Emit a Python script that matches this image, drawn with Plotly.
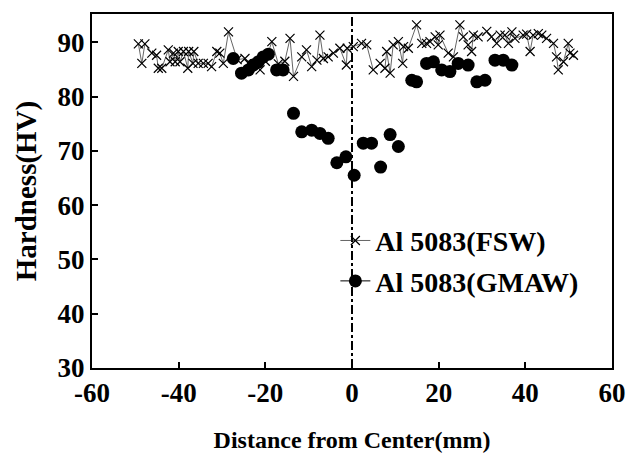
import plotly.graph_objects as go

# FSW hardness profile (distance mm, hardness HV)
fsw_x = [-49.3, -48.5, -47.8, -46.2, -45.1, -44.7, -43.9, -42.4, -42.0, -41.2,
         -40.8, -40.1, -39.7, -38.9, -37.9, -37.7, -36.7, -36.5, -35.5, -34.3,
         -33.2, -32.4, -31.2, -30.5, -29.7, -28.5, -26.5, -24.7, -23.9, -22.5,
         -21.2, -20.0, -18.5, -17.0, -15.5, -14.3, -13.5, -11.6, -10.5, -9.3,
         -8.1, -7.4, -6.6, -5.5, -4.3, -2.8, -1.3, -1.1, 0.3, 2.2,
         3.4, 4.9, 6.5, 7.6, 8.0, 8.8, 9.5, 10.7, 11.7, 11.9,
         13.0, 14.9, 16.1, 17.2, 18.0, 19.2, 19.9, 20.3, 22.2, 23.4,
         24.9, 25.7, 26.8, 27.6, 28.0, 29.1, 31.1, 32.2, 33.4, 34.2,
         35.3, 36.1, 36.9, 37.6, 39.5, 40.3, 41.1, 41.8, 43.0, 43.8,
         44.9, 46.5, 47.2, 47.6, 48.8, 49.9, 50.3, 51.1]
fsw_y = [89.7, 86.1, 89.7, 88.0, 87.6, 85.2, 85.2, 88.6, 86.4, 88.0,
         86.4, 88.3, 86.4, 88.3, 85.2, 88.3, 86.1, 88.3, 86.1, 86.1,
         86.1, 85.5, 88.3, 88.0, 86.1, 91.9, 86.8, 87.0, 86.1, 86.0,
         84.9, 86.5, 90.1, 86.0, 86.5, 90.7, 83.7, 87.3, 88.6, 85.5,
         86.7, 91.3, 87.0, 87.3, 88.0, 88.9, 85.8, 88.9, 89.2, 89.8,
         89.5, 84.9, 86.1, 85.2, 88.3, 84.3, 89.5, 90.1, 86.1, 89.2,
         88.9, 93.2, 89.8, 89.8, 90.1, 91.0, 89.5, 91.3, 88.0, 87.3,
         93.2, 91.0, 89.5, 88.3, 91.3, 91.0, 92.0, 91.0, 89.8, 91.3,
         91.3, 89.8, 91.9, 90.7, 91.3, 91.5, 88.3, 91.3, 91.6, 91.3,
         90.7, 89.8, 87.3, 84.9, 86.4, 89.8, 88.0, 87.6]

# GMAW hardness profile
gmaw_x = [-27.4, -25.5, -23.9, -22.8, -21.6, -20.5, -19.3, -17.4, -15.9, -13.5,
          -11.6, -9.3, -7.4, -5.5, -3.5, -1.4, 0.5, 2.6, 4.5, 6.6,
          8.8, 10.7, 13.8, 14.9, 17.2, 18.8, 20.7, 22.6, 24.5, 26.8,
          28.8, 30.7, 33.0, 34.9, 36.9]
gmaw_y = [87.0, 84.3, 84.9, 85.8, 86.4, 87.3, 87.8, 84.9, 84.9, 76.9,
          73.5, 73.8, 73.2, 72.3, 67.8, 68.9, 65.5, 71.4, 71.4, 67.0,
          73.0, 70.8, 83.0, 82.7, 86.1, 86.4, 84.9, 84.6, 86.1, 85.8,
          82.7, 83.0, 86.7, 86.7, 85.8]

x_ticks = [-60, -40, -20, 0, 20, 40, 60]
y_ticks = [30, 40, 50, 60, 70, 80, 90]

FONT = "Liberation Serif"

fig = go.Figure()

fig.add_trace(go.Scatter(
    x=fsw_x, y=fsw_y, mode="lines+markers", name="Al 5083(FSW)",
    legendgroup="a",
    line=dict(color="#222", width=0.7),
    marker=dict(symbol="x-thin", size=9, line=dict(color="black", width=1.2)),
))

fig.add_trace(go.Scatter(
    x=gmaw_x, y=gmaw_y, mode="markers", name="Al 5083(GMAW)",
    showlegend=False,
    marker=dict(symbol="circle", size=13, color="black"),
))

# legend entry for GMAW (line + dot as in the original key)
fig.add_trace(go.Scatter(
    x=[None], y=[None], mode="lines+markers", name="Al 5083(GMAW)",
    legendgroup="b",
    line=dict(color="black", width=1),
    marker=dict(symbol="circle", size=13, color="black"),
))

# centre line
fig.add_vline(x=0, line=dict(color="black", width=2, dash="dashdot"))

# margins compensate for the page's 8px body margin
fig.update_layout(
    width=643, height=459,
    margin=dict(l=84, r=39, t=6, b=99),
    paper_bgcolor="white", plot_bgcolor="white",
    font=dict(family=FONT, color="black", size=24, weight="bold"),
    showlegend=True,
    legend=dict(
        x=0.468, y=0.43, xanchor="left", yanchor="top",
        bgcolor="rgba(0,0,0,0)", borderwidth=0,
        font=dict(family=FONT, size=28, weight="bold"),
        traceorder="grouped", tracegroupgap=1,
    ),
)

fig.update_xaxes(
    range=[-60, 60], tickvals=x_ticks, ticktext=[str(v) for v in x_ticks],
    showgrid=False, zeroline=False, automargin=False,
    showline=True, linecolor="black", linewidth=2, mirror=True,
    ticks="inside", ticklen=6, tickwidth=1.5, tickcolor="black",
    tickfont=dict(family=FONT, size=27, weight="bold"),
    title=dict(text="Distance from Center(mm)", standoff=24,
               font=dict(family=FONT, size=24, weight="bold")),
)
fig.update_yaxes(
    range=[30, 95.2], tickvals=y_ticks, ticktext=[str(v) for v in y_ticks],
    showgrid=False, zeroline=False, automargin=False,
    showline=True, linecolor="black", linewidth=2, mirror=True,
    ticks="inside", ticklen=6, tickwidth=1.5, tickcolor="black",
    tickfont=dict(family=FONT, size=27, weight="bold"),
    title=dict(text="Hardness(HV)", standoff=12,
               font=dict(family=FONT, size=29, weight="bold")),
)

fig.write_html("out.html")
